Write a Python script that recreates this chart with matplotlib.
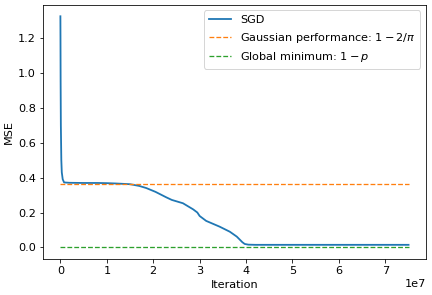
import numpy as np
import matplotlib
matplotlib.use("Agg")
import matplotlib.pyplot as plt

# SGD curve (iteration, MSE)
iterations = [0, 0.02e6, 0.05e6, 0.1e6, 0.2e6, 0.3e6, 0.5e6, 0.8e6, 2e6, 5e6, 8e6, 10e6, 12e6,
              15e6, 17e6, 18.5e6, 20.5e6, 22.8e6, 24e6, 26.4e6, 28.6e6, 29.5e6, 30e6, 31.4e6,
              34.3e6, 36.5e6, 38e6, 38.6e6, 39.2e6, 39.7e6, 40.5e6, 42e6, 50e6, 60e6, 70e6, 75e6]
sgd_mse = [1.323, 1.2, 0.95, 0.7, 0.5, 0.43, 0.39, 0.372, 0.370, 0.369, 0.369, 0.368, 0.366,
           0.362, 0.352, 0.340, 0.318, 0.287, 0.272, 0.253, 0.218, 0.200, 0.180, 0.152,
           0.119, 0.090, 0.062, 0.046, 0.030, 0.020, 0.016, 0.015, 0.015, 0.015, 0.015, 0.015]

gauss_perf = 1 - 2 / np.pi
global_min = 0.0
x_range = [0, 75e6]

plt.rcParams["font.size"] = 11.3
fig = plt.figure(figsize=(6, 295 / 72), dpi=72)
ax = fig.add_axes([0.0995, 0.122, 0.8865, 0.862])

ax.plot(iterations, sgd_mse, color="#1f77b4", lw=1.8, label="SGD")
ax.plot(x_range, [gauss_perf, gauss_perf], color="#ff7f0e", lw=1.3, linestyle="--",
        label=r"Gaussian performance: $1-2/\pi$")
ax.plot(x_range, [global_min, global_min], color="#2ca02c", lw=1.3, linestyle="--",
        label=r"Global minimum: $1-p$")

ax.set_xlabel("Iteration")
ax.set_ylabel("MSE")
ax.legend(loc="upper right")

fig.savefig("out.png", dpi=72)
